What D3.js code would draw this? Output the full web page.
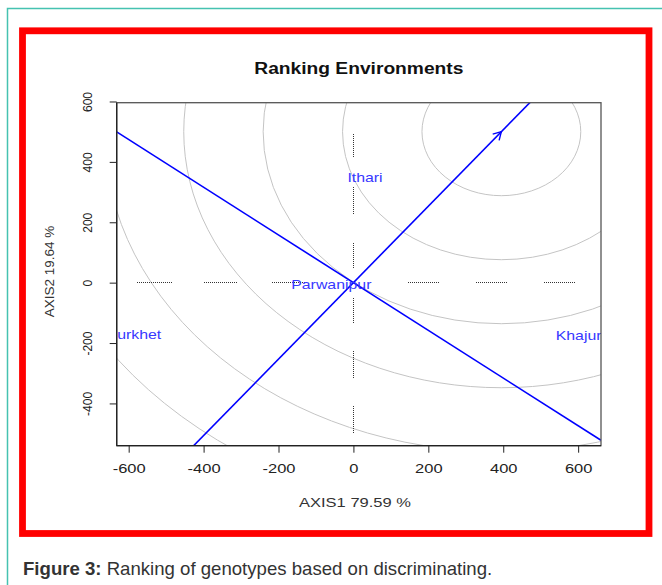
<!DOCTYPE html>
<html>
<head>
<meta charset="utf-8">
<script src="https://cdn.jsdelivr.net/npm/d3@7/dist/d3.min.js"></script>
<style>
  body { margin: 0; background: #fff; }
  svg { display: block; font-family: "Liberation Sans", Arial, sans-serif; }
</style>
</head>
<body>
<svg id="chart" width="662" height="585"></svg>
<script>
// axis ticks
const xTicks = [-600, -400, -200, 0, 200, 400, 600];
const yTicks = [-400, -200, 0, 200, 400, 600];

// environments (biplot scores)
const envNames = ["Ithari", "Parwanipur", "Surkhet", "Khajura"];
const envX = [31, -59, -586, 613];
const envY = [348, -7, -171, -175];

// average environment point and ranking circles
const avgEnv = [395, 500];
const circleRadii = [212, 424, 636, 848, 1060, 1272];

// dotted reference segments along the axes
const hSegStart = [-578, -398, -217, 147, 326, 508];
const hSegEnd = [-485, -311, -129, 232, 412, 595];
const vSegStart = [415, 229, 47, -134, -315, -497];
const vSegEnd = [497, 317, 135, -46, -224, -407];

const svg = d3.select("#chart");
const SX = 1.22; // horizontal stretch of the original bitmap text

function stretch(sel, k) {
  sel.each(function () {
    const w = this.getComputedTextLength();
    d3.select(this).attr("textLength", w * k).attr("lengthAdjust", "spacingAndGlyphs");
  });
}

// outer page frame + red frame
svg.append("rect").attr("width", 662).attr("height", 585).attr("fill", "#fff");
svg.append("rect")
  .attr("x", 7.5).attr("y", 8.5).attr("width", 700).attr("height", 640)
  .attr("fill", "none").attr("stroke", "#45c2b1").attr("stroke-width", 1.5);
svg.append("rect")
  .attr("x", 22.5).attr("y", 30.8).attr("width", 626.5).attr("height", 502.7)
  .attr("fill", "none").attr("stroke", "#ff0000").attr("stroke-width", 6.8);

const pLeft = 116.7, pRight = 601, pTop = 102.7, pBottom = 445.7;
const x = d3.scaleLinear().domain([-632, 661]).range([pLeft, pRight]);
const y = d3.scaleLinear().domain([-540, 596]).range([pBottom, pTop]);

svg.append("clipPath").attr("id", "plotclip")
  .append("rect").attr("x", pLeft).attr("y", pTop)
  .attr("width", pRight - pLeft).attr("height", pBottom - pTop);

const plot = svg.append("g").attr("clip-path", "url(#plotclip)");

// concentric circles around the ideal point
plot.selectAll("ellipse.ring").data(circleRadii).enter().append("ellipse")
  .attr("class", "ring")
  .attr("cx", x(avgEnv[0])).attr("cy", y(avgEnv[1]))
  .attr("rx", d => x(d) - x(0))
  .attr("ry", d => y(0) - y(d))
  .attr("fill", "none").attr("stroke", "#c4c4c4").attr("stroke-width", 1);

// dotted axes (snapped to the pixel grid so the dots stay crisp)
const y0 = Math.floor(y(0)) + 0.5, x0 = Math.floor(x(0)) + 0.5;
plot.selectAll("line.hseg").data(hSegStart).enter().append("line")
  .attr("x1", d => Math.round(x(d))).attr("x2", (d, i) => Math.round(x(hSegEnd[i])))
  .attr("y1", y0).attr("y2", y0)
  .attr("stroke", "#333").attr("stroke-width", 1).attr("stroke-dasharray", "1,1");
plot.selectAll("line.vseg").data(vSegStart).enter().append("line")
  .attr("y1", d => Math.round(y(d))).attr("y2", (d, i) => Math.round(y(vSegEnd[i])))
  .attr("x1", x0).attr("x2", x0)
  .attr("stroke", "#333").attr("stroke-width", 1).attr("stroke-dasharray", "1,1");

// average environment axis and its perpendicular through the origin
const slope = avgEnv[1] / avgEnv[0];
const perp = -1 / slope;
const xd = x.domain();
[slope, perp].forEach(s => {
  plot.append("line")
    .attr("x1", x(xd[0])).attr("y1", y(s * xd[0]))
    .attr("x2", x(xd[1])).attr("y2", y(s * xd[1]))
    .attr("stroke", "#0000ff").attr("stroke-width", 1.6);
});

// arrow head at the average environment
const tipX = x(avgEnv[0]), tipY = y(avgEnv[1]);
const ang = Math.atan2(tipY - y(0), tipX - x(0));
[-Math.PI / 6, Math.PI / 6].forEach(a => {
  plot.append("line")
    .attr("x1", tipX).attr("y1", tipY)
    .attr("x2", tipX - 9 * Math.cos(ang + a))
    .attr("y2", tipY - 9 * Math.sin(ang + a))
    .attr("stroke", "#0000ff").attr("stroke-width", 1.4);
});

// environment labels
plot.selectAll("text.env").data(envNames).enter().append("text")
  .attr("class", "env")
  .attr("x", (d, i) => x(envX[i])).attr("y", (d, i) => y(envY[i]))
  .attr("dy", "0.35em").attr("text-anchor", "middle")
  .attr("font-size", 13).attr("fill", "#3838ff")
  .text(d => d)
  .call(stretch, SX);

// box
svg.append("rect").attr("x", pLeft).attr("y", pTop)
  .attr("width", pRight - pLeft).attr("height", pBottom - pTop)
  .attr("fill", "none").attr("stroke", "#555").attr("stroke-width", 1.3);

// x axis
const gx = svg.append("g").attr("transform", `translate(0,${pBottom})`)
  .call(d3.axisBottom(x).tickValues(xTicks).tickFormat(d => String(d))
    .tickSize(7).tickSizeOuter(0).tickPadding(11));
gx.select(".domain").attr("stroke", "#222").attr("stroke-width", 1.3).attr("d", `M${pLeft},0H${pRight}`);
gx.selectAll(".tick line").attr("stroke", "#222");
gx.selectAll("text").attr("font-size", 13.5).attr("fill", "#222")
  .attr("font-family", "Liberation Sans, Arial, sans-serif").call(stretch, SX);

// y axis
const gy = svg.append("g").attr("transform", `translate(${pLeft},0)`)
  .call(d3.axisLeft(y).tickValues(yTicks).tickFormat(d => String(d))
    .tickSize(7).tickSizeOuter(0));
gy.select(".domain").attr("stroke", "#222").attr("stroke-width", 1.3).attr("d", `M0,${pTop}V${pBottom}`);
gy.selectAll(".tick line").attr("stroke", "#222");
gy.selectAll("text")
  .attr("x", null).attr("dy", null)
  .attr("text-anchor", "middle")
  .attr("transform", "translate(-25,0) rotate(-90)")
  .attr("font-size", 12).attr("fill", "#222")
  .attr("font-family", "Liberation Sans, Arial, sans-serif");

// titles
svg.append("text").attr("x", (pLeft + pRight) / 2).attr("y", 74)
  .attr("text-anchor", "middle").attr("font-size", 16).attr("font-weight", "bold")
  .attr("fill", "#111").text("Ranking Environments").call(stretch, 1.2);

svg.append("text").attr("x", 355).attr("y", 506.5)
  .attr("text-anchor", "middle").attr("font-size", 13).attr("fill", "#333")
  .text("AXIS1 79.59 %").call(stretch, 1.27);

svg.append("text").attr("transform", "translate(54,271.5) rotate(-90)")
  .attr("text-anchor", "middle").attr("font-size", 13.5).attr("fill", "#333")
  .text("AXIS2 19.64 %");

// figure caption
const cap = svg.append("text").attr("x", 23).attr("y", 575)
  .attr("font-size", 18.6).attr("fill", "#333");
cap.append("tspan").attr("font-weight", "bold").text("Figure 3:");
cap.append("tspan").text(" Ranking of genotypes based on discriminating.");
</script>
</body>
</html>
